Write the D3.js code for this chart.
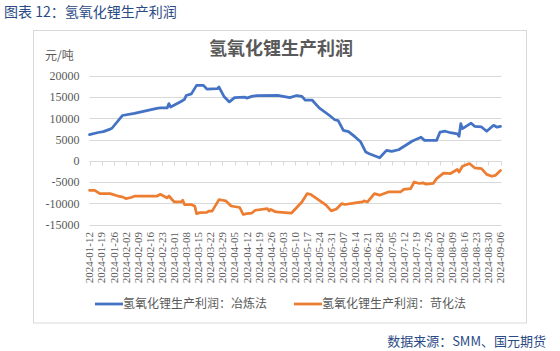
<!DOCTYPE html>
<html>
<head>
<meta charset="utf-8">
<script src="https://cdn.jsdelivr.net/npm/d3@7"></script>
<style>
  body { margin: 0; background: #fff; }
  svg { display: block; }
</style>
</head>
<body>
<svg id="chart" width="560" height="351"></svg>
<script>
// data
const smeltDates = ['2024-01-12','2024-01-17','2024-01-20','2024-01-24','2024-01-25','2024-01-31','2024-02-07','2024-02-20','2024-02-22','2024-02-26','2024-02-27','2024-02-28','2024-03-05','2024-03-07','2024-03-08','2024-03-11','2024-03-14','2024-03-18','2024-03-20','2024-03-26','2024-03-27','2024-03-30','2024-04-02','2024-04-05','2024-04-11','2024-04-12','2024-04-15','2024-04-18','2024-04-30','2024-05-07','2024-05-11','2024-05-14','2024-05-16','2024-05-20','2024-05-24','2024-05-30','2024-06-02','2024-06-04','2024-06-07','2024-06-10','2024-06-14','2024-06-17','2024-06-20','2024-06-22','2024-06-28','2024-07-02','2024-07-05','2024-07-09','2024-07-12','2024-07-17','2024-07-22','2024-07-24','2024-07-31','2024-08-02','2024-08-05','2024-08-08','2024-08-12','2024-08-13','2024-08-14','2024-08-15','2024-08-20','2024-08-22','2024-08-26','2024-08-29','2024-09-02','2024-09-04','2024-09-06']
const smeltValues = [6200,6700,6900,7500,7700,10700,11200,12400,12500,12500,13500,12700,14000,14500,15400,15800,17800,17800,16900,17000,17400,15100,13900,14900,15000,14800,15200,15400,15450,14900,15400,15200,14300,14300,12500,10700,9700,9500,7200,6900,5600,4500,2100,1700,750,2500,2250,2650,3400,4700,5600,4850,4850,6800,7000,6650,6400,5800,8800,7600,8900,8150,8000,7000,8400,7950,8150]

const causticDates = ['2024-01-12','2024-01-15','2024-01-18','2024-01-24','2024-01-28','2024-01-31','2024-02-02','2024-02-05','2024-02-07','2024-02-20','2024-02-22','2024-02-26','2024-02-27','2024-03-01','2024-03-05','2024-03-06','2024-03-07','2024-03-11','2024-03-13','2024-03-14','2024-03-16','2024-03-20','2024-03-21','2024-03-23','2024-03-27','2024-03-29','2024-03-31','2024-04-03','2024-04-08','2024-04-10','2024-04-12','2024-04-15','2024-04-17','2024-04-24','2024-04-25','2024-04-26','2024-04-29','2024-05-08','2024-05-11','2024-05-14','2024-05-17','2024-05-19','2024-05-22','2024-05-28','2024-05-31','2024-06-03','2024-06-06','2024-06-08','2024-06-13','2024-06-18','2024-06-19','2024-06-21','2024-06-25','2024-06-28','2024-07-03','2024-07-10','2024-07-12','2024-07-16','2024-07-18','2024-07-21','2024-07-23','2024-07-25','2024-07-29','2024-07-31','2024-08-04','2024-08-08','2024-08-12','2024-08-13','2024-08-15','2024-08-19','2024-08-22','2024-08-26','2024-08-29','2024-09-01','2024-09-03','2024-09-06']
const causticValues = [-6900,-6900,-7700,-7700,-8200,-8450,-8850,-8600,-8300,-8300,-7850,-8700,-8250,-9650,-9650,-9250,-10250,-10250,-10650,-12400,-12150,-12100,-11800,-11800,-9100,-9250,-9400,-10600,-10950,-12600,-12400,-12250,-11600,-11200,-11750,-11400,-12000,-12250,-10950,-9650,-7700,-7850,-8700,-10400,-11750,-11300,-10050,-10250,-9900,-9650,-9400,-9650,-7700,-8050,-7300,-7300,-6700,-6500,-4950,-5300,-5150,-5450,-5300,-4150,-2850,-2950,-2000,-2600,-1250,-600,-1600,-1800,-3150,-3600,-3400,-2250]

const tickDates = ['2024-01-12','2024-01-19','2024-01-26','2024-02-02','2024-02-09','2024-02-16','2024-02-23','2024-03-01','2024-03-08','2024-03-15','2024-03-22','2024-03-29','2024-04-05','2024-04-12','2024-04-19','2024-04-26','2024-05-03','2024-05-10','2024-05-17','2024-05-24','2024-05-31','2024-06-07','2024-06-14','2024-06-21','2024-06-28','2024-07-05','2024-07-12','2024-07-19','2024-07-26','2024-08-02','2024-08-09','2024-08-16','2024-08-23','2024-08-30','2024-09-06']
const yTicks = [-15000,-10000,-5000,0,5000,10000,15000,20000]

const seriesNames = ['氢氧化锂生产利润：冶炼法', '氢氧化锂生产利润：苛化法']
const seriesColors = ['#4472c4', '#ed7d31']

const parse = d3.timeParse('%Y-%m-%d')
const series = [
  smeltDates.map((d, i) => ({date: parse(d), value: smeltValues[i]})),
  causticDates.map((d, i) => ({date: parse(d), value: causticValues[i]}))
]

const svg = d3.select('#chart')
const textGray = '#595959'
const gridGray = '#d9d9d9'
const cjk = '"Noto Sans CJK SC", "Microsoft YaHei", sans-serif'
const serif = '"Liberation Serif", "Times New Roman", serif'

// header
svg.append('text')
  .attr('x', 4).attr('y', 17)
  .style('font-family', cjk).style('font-size', '14px')
  .style('fill', '#2a4a86')
  .text('图表 12：氢氧化锂生产利润')

// outer box
svg.append('rect')
  .attr('x', 33.5).attr('y', 30.5)
  .attr('width', 493).attr('height', 292.5)
  .style('fill', '#fff').style('stroke', gridGray)

let xScale = d3.scaleTime()
  .domain([parse(tickDates[0]), parse(tickDates[tickDates.length - 1])])
  .range([89.5, 500.5])
let yScale = d3.scaleLinear()
  .domain([-15000, 20000])
  .range([224.7, 76])

// chart title
svg.append('text')
  .attr('x', 281).attr('y', 55)
  .attr('text-anchor', 'middle')
  .style('font-family', cjk).style('font-size', '18px').style('font-weight', 'bold')
  .style('fill', textGray)
  .text('氢氧化锂生产利润')

svg.append('text')
  .attr('x', 45).attr('y', 60)
  .style('font-family', cjk).style('font-size', '12px')
  .style('fill', textGray)
  .text('元/吨')

// gridlines
svg.append('g')
  .selectAll('line')
  .data(yTicks)
  .enter()
  .append('line')
  .attr('x1', 89.5).attr('x2', 501.5)
  .attr('y1', d => Math.round(yScale(d)) + 0.5)
  .attr('y2', d => Math.round(yScale(d)) + 0.5)
  .style('stroke', gridGray).style('stroke-width', 1)

// y labels
svg.append('g')
  .selectAll('text')
  .data(yTicks)
  .enter()
  .append('text')
  .attr('x', 79.5)
  .attr('y', d => yScale(d))
  .attr('dy', '0.35em')
  .attr('text-anchor', 'end')
  .style('font-family', serif).style('font-size', '12px')
  .style('fill', textGray)
  .text(d => d)

// x axis ticks on the zero line
let zeroY = Math.round(yScale(0)) + 0.5
svg.append('g')
  .selectAll('line')
  .data(tickDates)
  .enter()
  .append('line')
  .attr('x1', d => Math.round(xScale(parse(d))) + 0.5)
  .attr('x2', d => Math.round(xScale(parse(d))) + 0.5)
  .attr('y1', zeroY).attr('y2', zeroY + 4)
  .style('stroke', gridGray)

// x labels at the bottom
svg.append('g')
  .selectAll('text')
  .data(tickDates)
  .enter()
  .append('text')
  .attr('transform', d => `translate(${xScale(parse(d))},232) rotate(-90)`)
  .attr('dy', '0.35em')
  .attr('text-anchor', 'end')
  .style('font-family', serif).style('font-size', '11px')
  .style('fill', textGray)
  .text(d => d)

// lines
let line = d3.line()
  .x(d => xScale(d.date))
  .y(d => yScale(d.value))
svg.append('g')
  .selectAll('path')
  .data(series)
  .enter()
  .append('path')
  .attr('d', line)
  .style('fill', 'none')
  .style('stroke', (d, i) => seriesColors[i])
  .style('stroke-width', 2.75)
  .style('stroke-linejoin', 'round')
  .style('stroke-linecap', 'round')

// legend
const legendX = [95, 294]
let legend = svg.append('g')
  .selectAll('g')
  .data(seriesNames)
  .enter()
  .append('g')
  .attr('transform', (d, i) => `translate(${legendX[i]},304)`)
legend.append('line')
  .attr('x1', 0).attr('x2', 28)
  .style('stroke', (d, i) => seriesColors[i])
  .style('stroke-width', 2.75)
legend.append('text')
  .attr('x', 28).attr('dy', '0.35em')
  .style('font-family', cjk).style('font-size', '12px')
  .style('fill', textGray)
  .text(d => d)

// source
svg.append('text')
  .attr('x', 546).attr('y', 346)
  .attr('text-anchor', 'end')
  .style('font-family', cjk).style('font-size', '13px')
  .style('fill', '#2a4a86')
  .text('数据来源：SMM、国元期货')
</script>
</body>
</html>
